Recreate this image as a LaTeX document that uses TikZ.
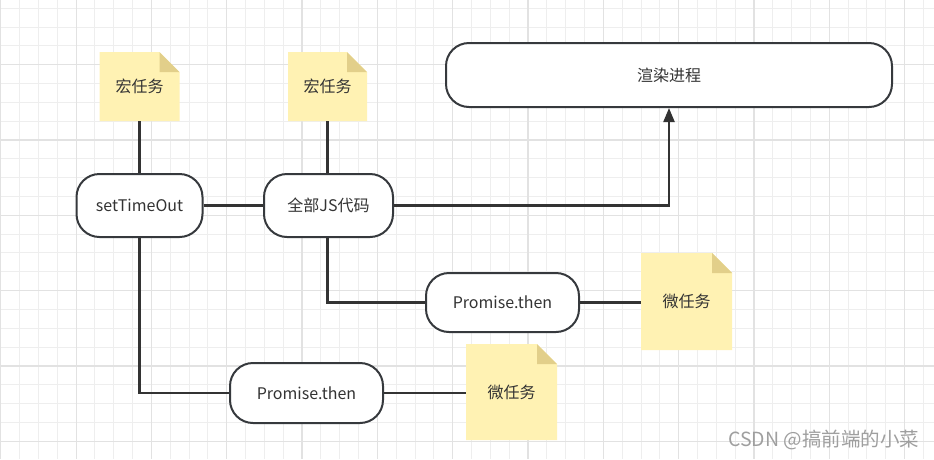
\documentclass[tikz,border=0pt]{standalone}
\usepackage{fontspec}
\setmainfont{Noto Sans CJK SC}
\usetikzlibrary{arrows.meta,calc}
\definecolor{notefill}{HTML}{FFF2B3}
\definecolor{foldfill}{HTML}{E2CF8A}
\definecolor{edgecol}{HTML}{333333}
\definecolor{bordercol}{HTML}{36393D}
\definecolor{txtcol}{HTML}{333333}
\definecolor{gridminor}{HTML}{EEEEEE}
\definecolor{gridmajor}{HTML}{E2E2E2}
\tikzset{
  pill/.style={draw=bordercol, line width=2pt, fill=white, rounded corners=23pt,
    inner sep=0pt, text=txtcol, font=\fontsize{16}{19}\selectfont},
  note/.style={inner sep=0pt, text=txtcol, font=\fontsize{16}{19}\selectfont,
    path picture={
      \coordinate (ppne) at (path picture bounding box.north east);
      \coordinate (ppsw) at (path picture bounding box.south west);
      \fill[notefill] (ppsw) |- ($(ppne)+(-20pt,0pt)$) -- ($(ppne)+(0pt,-20pt)$) |- (ppsw) -- cycle;
      \fill[foldfill] ($(ppne)+(-20pt,0pt)$) -- ($(ppne)+(0pt,-20pt)$) -- ($(ppne)+(-20pt,-20pt)$) -- cycle;
    }},
  conn/.style={draw=edgecol, line width=2.2pt},
  watermark/.style={text=gray!75, font=\fontsize{19.5}{22}\selectfont, inner sep=0pt, anchor=west}
}
\begin{document}
\begin{tikzpicture}[x=1pt,y=-1pt]
\useasboundingbox (0,0) rectangle (934,459);
\fill[white] (0,0) rectangle (934,459);
% grid
\foreach \k in {0,...,49} {
  \draw[gridminor, line width=1pt] ({0.8+\k*18.83},0) -- ({0.8+\k*18.83},459);
}
\foreach \k in {0,...,24} {
  \draw[gridminor, line width=1pt] (0,{8.2+\k*18.83}) -- (934,{8.2+\k*18.83});
}
\foreach \k in {0,4,...,48} {
  \draw[gridmajor, line width=1.2pt] ({0.8+\k*18.83},0) -- ({0.8+\k*18.83},459);
}
\foreach \k in {3,7,...,23} {
  \draw[gridmajor, line width=1.2pt] (0,{8.2+\k*18.83}) -- (934,{8.2+\k*18.83});
}

% notes
\node[note, minimum width=80pt, minimum height=69pt] (n1) at (139.5,86.5) {宏任务};
\node[note, minimum width=79pt, minimum height=69pt] (n2) at (327.5,86.5) {宏任务};
\node[note, minimum width=91pt, minimum height=97pt] (n4) at (686.5,301.5) {微任务};
\node[note, minimum width=91pt, minimum height=96pt] (n3) at (511.5,392) {微任务};

% process nodes
\node[pill, minimum width=126pt, minimum height=63pt] (st) at (139.5,205.5) {setTimeOut};
\node[pill, minimum width=129pt, minimum height=63pt] (js) at (328.5,205.5) {全部JS代码};
\node[pill, minimum width=446pt, minimum height=64pt] (rd) at (669,75) {渲染进程};
\node[pill, minimum width=153pt, minimum height=59pt] (p1) at (502.5,302.5) {Promise.then};
\node[pill, minimum width=153pt, minimum height=60pt] (p2) at (306.5,393) {Promise.then};

% connectors
\draw[conn] (n1.south) -- (n1.south |- st.north);
\draw[conn] (n2.south) -- (n2.south |- js.north);
\draw[conn] (st.east) -- (js.west);
\draw[conn, -{Triangle[length=14pt,width=11pt]}] (js.east) -| (rd.south);
\draw[conn] (n2.south |- js.south) |- (p1.west);
\draw[conn] (n1.south |- st.south) |- (p2.west);
\draw[conn] (p1.east) -- (p1.east -| n4.west);
\draw[conn] (p2.east) -- (p2.east -| n3.west);

% watermark
\node[watermark] (wm) at (728,440) {CSDN @搞前端的小菜};
\end{tikzpicture}
\end{document}
